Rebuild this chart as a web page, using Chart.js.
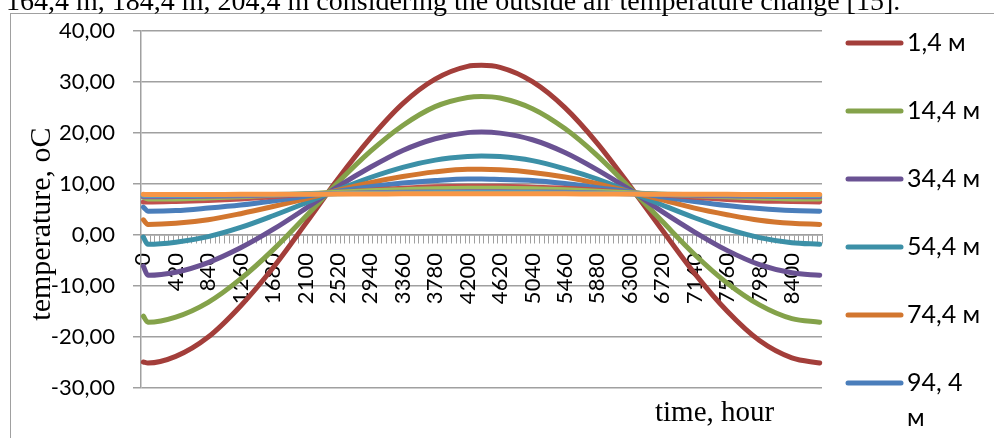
<!DOCTYPE html>
<html>
<head>
<meta charset="utf-8">
<script src="https://cdn.jsdelivr.net/npm/chart.js@4.4.1/dist/chart.umd.min.js"></script>
<style>
  html, body { margin: 0; padding: 0; background: #fff; }
  #wrap { position: relative; width: 994px; height: 438px; overflow: hidden; }
</style>
</head>
<body>
<div id="wrap"><canvas id="grafico" width="994" height="438"></canvas></div>
<script>
// category axis: one category every 60 hours
const HOURS = [];
for (let h = 0; h <= 8760; h += 60) HOURS.push(h);

const SAMPLE_HOURS = [0, 60, 420, 840, 1260, 1680, 2100, 2520, 2940, 3360, 3780, 4200,
                      4380, 4620, 5040, 5460, 5880, 6300, 6720, 7140, 7560, 7980, 8400, 8760];

const SERIES_NAMES = ['1,4 м', '14,4 м', '34,4 м', '54,4 м', '74,4 м', '94, 4 м',
                      '114,4 м', '134,4 м', '164,4 м', '184,4 м', '204,4 м'];

const T_1_4   = [-24.9, -25.1, -23.8, -20.0, -13.9, -6.4, 2.2, 11.0, 19.0, 25.8, 30.6, 33.1,
                 33.3, 32.9, 30.1, 25.0, 18.0, 9.7, 1.0, -7.5, -14.9, -20.7, -24.1, -25.1];
const T_14_4  = [-15.9, -17.1, -16.1, -13.2, -8.6, -2.9, 3.6, 10.3, 16.4, 21.5, 25.2, 27.0,
                 27.2, 26.9, 24.8, 20.9, 15.6, 9.3, 2.7, -3.8, -9.4, -13.7, -16.4, -17.1];
const T_34_4  = [-6.1, -7.9, -7.3, -5.4, -2.5, 1.1, 5.2, 9.5, 13.3, 16.6, 18.9, 20.1,
                 20.2, 20.0, 18.7, 16.2, 12.8, 8.9, 4.6, 0.6, -3.0, -5.8, -7.4, -7.9];
const T_54_4  = [-0.4, -1.8, -1.4, -0.3, 1.5, 3.8, 6.3, 8.9, 11.3, 13.3, 14.7, 15.4,
                 15.5, 15.4, 14.6, 13.0, 11.0, 8.5, 5.9, 3.4, 1.2, -0.5, -1.5, -1.8];
const T_74_4  = [3.0, 2.1, 2.3, 3.0, 4.2, 5.6, 7.1, 8.8, 10.3, 11.5, 12.4, 12.9,
                 12.9, 12.8, 12.3, 11.4, 10.1, 8.5, 6.9, 5.3, 4.0, 2.9, 2.3, 2.1];
const T_94_4  = [5.5, 4.7, 4.8, 5.3, 5.9, 6.7, 7.6, 8.6, 9.5, 10.2, 10.7, 11.0,
                 11.0, 10.9, 10.7, 10.1, 9.3, 8.5, 7.5, 6.6, 5.8, 5.2, 4.8, 4.7];
const T_114_4 = [6.5, 6.5, 6.6, 6.8, 7.1, 7.5, 8.0, 8.4, 8.8, 9.2, 9.5, 9.6,
                 9.6, 9.6, 9.4, 9.2, 8.8, 8.3, 7.9, 7.4, 7.0, 6.7, 6.6, 6.5];
const T_134_4 = [7.4, 7.1, 7.1, 7.3, 7.5, 7.8, 8.1, 8.4, 8.7, 8.9, 9.1, 9.2,
                 9.2, 9.2, 9.1, 8.9, 8.6, 8.3, 8.0, 7.7, 7.5, 7.3, 7.1, 7.1];
const T_164_4 = [7.5, 7.5, 7.55, 7.6, 7.7, 7.85, 8.0, 8.15, 8.3, 8.4, 8.45, 8.5,
                 8.5, 8.5, 8.45, 8.4, 8.25, 8.1, 7.95, 7.8, 7.7, 7.6, 7.55, 7.5];
const T_184_4 = [7.8, 7.8, 7.8, 7.85, 7.9, 7.95, 8.05, 8.1, 8.2, 8.25, 8.3, 8.3,
                 8.3, 8.3, 8.3, 8.25, 8.2, 8.1, 8.0, 7.95, 7.9, 7.85, 7.8, 7.8];
const T_204_4 = [8.0, 7.95, 7.95, 7.95, 8.0, 8.0, 8.0, 8.05, 8.05, 8.1, 8.1, 8.1,
                 8.1, 8.1, 8.1, 8.1, 8.05, 8.05, 8.0, 8.0, 8.0, 7.95, 7.95, 7.95];

const COLORS = ['#a33e3a', '#84a24a', '#6a5293', '#3c90a7', '#d2762f', '#4a7ebb',
                '#c0504d', '#9bbb59', '#8064a2', '#4bacc6', '#f79646'];

const Y_TICKS = { min: -30, max: 40, step: 10 };

const series = [T_1_4, T_14_4, T_34_4, T_54_4, T_74_4, T_94_4,
                T_114_4, T_134_4, T_164_4, T_184_4, T_204_4];

const GRID = '#a0a0a0';
const SANS = 'Lato, "Noto Sans", sans-serif';
const SERIF = '"Liberation Serif", "Times New Roman", serif';

// frame, caption, axis titles and the (clipped) legend of the original
const decor = {
  id: 'decor',
  beforeDraw(c) {
    const ctx = c.ctx;
    ctx.save();
    ctx.strokeStyle = GRID;
    ctx.lineWidth = 1;
    ctx.strokeRect(10.5, 13.5, 1000, 500);
    ctx.restore();
  },
  afterDraw(c) {
    const ctx = c.ctx;
    ctx.save();
    ctx.fillStyle = '#000';

    ctx.font = '28px ' + SERIF;
    ctx.textBaseline = 'alphabetic';
    ctx.textAlign = 'left';
    ctx.fillText('164,4 m, 184,4 m, 204,4 m considering the outside air temperature change [15].', 6, 10);

    ctx.font = '29px ' + SERIF;
    ctx.fillText('time, hour', 655, 421);

    ctx.save();
    ctx.translate(50, 224);
    ctx.rotate(-Math.PI / 2);
    ctx.font = '30px ' + SERIF;
    ctx.textAlign = 'center';
    ctx.fillText('temperature, oC', 0, 0);
    ctx.restore();

    // legend: only the first six entries fit
    ctx.font = '25px ' + SANS;
    ctx.textBaseline = 'middle';
    ctx.lineCap = 'round';
    const maxW = 994 - 907 - 12;
    for (let i = 0; i < 6; i++) {
      const y = 43 + 68 * i;
      ctx.strokeStyle = COLORS[i];
      ctx.lineWidth = 5;
      ctx.beginPath();
      ctx.moveTo(848, y);
      ctx.lineTo(901, y);
      ctx.stroke();
      const words = SERIES_NAMES[i].split(' ');
      let line = '', ly = y;
      words.forEach(w => {
        const test = line ? line + ' ' + w : w;
        if (line && ctx.measureText(test).width > maxW) {
          ctx.fillText(line, 907, ly);
          line = w;
          ly += 35;
        } else {
          line = test;
        }
      });
      ctx.fillText(line, 907, ly);
    }
    ctx.restore();
  }
};

new Chart(document.getElementById('grafico'), {
  type: 'line',
  data: {
    labels: HOURS,
    datasets: series.map((vals, i) => ({
      label: SERIES_NAMES[i],
      data: vals.map((v, k) => ({ x: SAMPLE_HOURS[k], y: v })),
      borderColor: COLORS[i],
      borderWidth: 5,
      pointRadius: 0,
      cubicInterpolationMode: 'monotone',
      borderCapStyle: 'round',
      borderJoinStyle: 'round',
      fill: false,
      order: -i
    }))
  },
  options: {
    responsive: false,
    animation: false,
    devicePixelRatio: 1,
    layout: { padding: { left: 10, top: 30, right: 172, bottom: 50 } },
    plugins: {
      legend: { display: false },
      tooltip: { enabled: false }
    },
    scales: {
      x: {
        type: 'category',
        position: { y: 0 },
        offset: true,
        grid: { drawOnChartArea: false, offset: true, tickLength: 8, color: GRID, lineWidth: 1 },
        border: { color: GRID, width: 1.5 },
        ticks: {
          autoSkip: false,
          minRotation: 90,
          maxRotation: 90,
          padding: 10,
          color: '#000',
          font: { family: SANS, size: 22 },
          callback: (v, i) => (i % 7 === 0 ? String(HOURS[i]) : '')
        }
      },
      y: {
        min: Y_TICKS.min,
        max: Y_TICKS.max,
        afterFit: s => { s.width = 131; },
        grid: { color: GRID, lineWidth: 1.5, tickLength: 8 },
        border: { color: GRID, width: 1.5 },
        ticks: {
          stepSize: Y_TICKS.step,
          padding: 18,
          color: '#000',
          font: { family: SANS, size: 22 },
          callback: v => v.toFixed(2).replace('.', ',')
        }
      }
    }
  },
  plugins: [decor]
});
</script>
</body>
</html>
